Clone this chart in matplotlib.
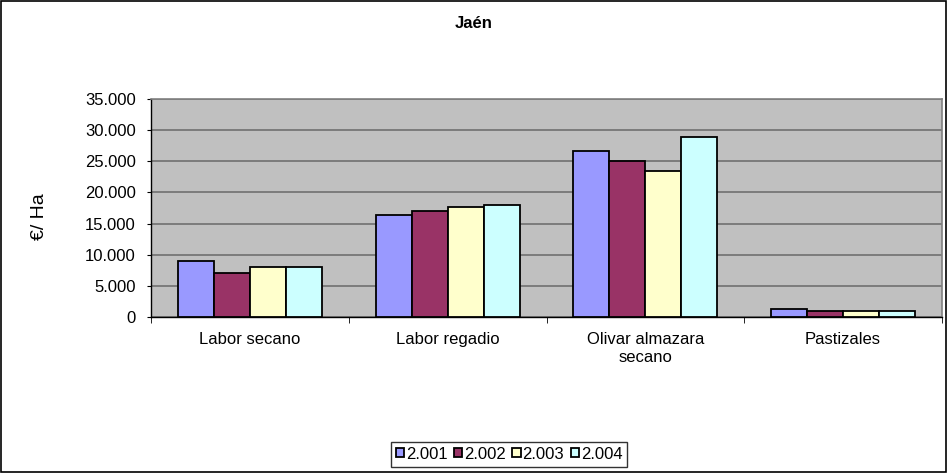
import numpy as np
import matplotlib.pyplot as plt
from matplotlib.ticker import FuncFormatter, FixedLocator
from matplotlib.patches import Rectangle

plt.rcParams['font.family'] = ['Liberation Sans', 'DejaVu Sans']

# data
categories = ["Labor secano", "Labor regadio", "Olivar almazara\nsecano", "Pastizales"]
years = ["2.001", "2.002", "2.003", "2.004"]
v2001 = [9000, 16350, 26650, 1230]
v2002 = [7070, 17000, 25030, 970]
v2003 = [8040, 17630, 23420, 970]
v2004 = [8040, 17960, 28890, 970]
colors = ["#9999FF", "#993366", "#FFFFCC", "#CCFFFF"]

series = [v2001, v2002, v2003, v2004]

W, H = 948, 473
fig = plt.figure(figsize=(W / 100, H / 100), dpi=100)
ax = fig.add_axes([151 / W, 1 - 317 / H, (942 - 151) / W, (317 - 99) / H])

# outer chart border
fig.patches.append(Rectangle((0.001, 0.002), 0.997, 0.995, transform=fig.transFigure,
                             fill=False, edgecolor="black", linewidth=1.2, zorder=10))

x = np.arange(len(categories))
bw = 0.182
for i, (vals, col, yr) in enumerate(zip(series, colors, years)):
    ax.bar(x + (i - 1.5) * bw, vals, width=bw, color=col, edgecolor="black",
           linewidth=1.3, label=yr, zorder=3)

ax.set_facecolor("#C0C0C0")
ax.set_xlim(-0.5, len(categories) - 0.5)
ax.set_ylim(0, 35000)
ax.set_yticks(np.arange(0, 35001, 5000))
ax.yaxis.set_major_formatter(FuncFormatter(lambda v, p: f"{int(v):,}".replace(",", ".")))
ax.grid(axis="y", color="#707070", linewidth=1.2, zorder=0)

ax.set_xticks(x)
ax.set_xticklabels(categories, fontsize=12)
ax.tick_params(axis="x", length=0, pad=11)
ax.xaxis.set_minor_locator(FixedLocator(np.arange(-0.5, len(categories), 1)))
ax.tick_params(axis="x", which="minor", length=4, color="black")
ax.tick_params(axis="y", labelsize=12, length=3, pad=8, color="black")

for s in ["top", "right"]:
    ax.spines[s].set_color("#808080")
    ax.spines[s].set_linewidth(1.2)
for s in ["left", "bottom"]:
    ax.spines[s].set_color("black")
    ax.spines[s].set_linewidth(1.0)

ax.set_ylabel("€/ Ha", fontsize=14)
ax.yaxis.set_label_coords((48 - 151) / (942 - 151), 0.46)
fig.text(0.5, 1 - 23 / H, "Jaén", ha="center", va="center", fontsize=12, fontweight="bold")

leg = fig.legend(loc="center", bbox_to_anchor=(509 / W, 1 - 454 / H), ncol=4,
                 fontsize=12, frameon=True, fancybox=False, edgecolor="black",
                 handlelength=0.5, handleheight=0.5, handletextpad=0.1,
                 columnspacing=0.4, borderpad=0.3, borderaxespad=0)
leg.get_frame().set_linewidth(1.0)

fig.savefig("out.png", dpi=100)
